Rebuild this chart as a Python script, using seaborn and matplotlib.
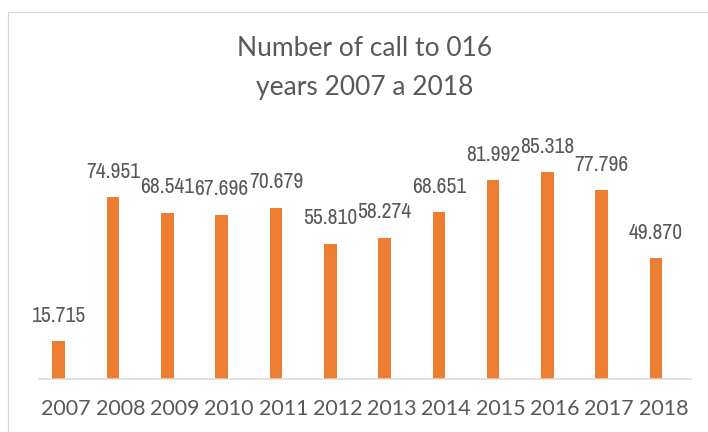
import matplotlib
matplotlib.use("Agg")
import matplotlib.pyplot as plt
import seaborn as sns
import pandas as pd
from matplotlib import font_manager as fm
from matplotlib.textpath import TextPath
from matplotlib.patches import Rectangle

# Calls to the 016 helpline per year
years = ["2007", "2008", "2009", "2010", "2011", "2012",
         "2013", "2014", "2015", "2016", "2017", "2018"]
calls = [15715, 74951, 68541, 67696, 70679, 55810,
         58274, 68651, 81992, 85318, 77796, 49870]
title_lines = ["Number of call to 016", "years 2007 a 2018"]

BAR = "#ED7D31"
TEXT = "#595959"
GRID = "#D9D9D9"

sns.set_theme(style="white")
plt.rcParams["font.family"] = ["Lato", "DejaVu Sans"]

W, H = 708, 432
DPI = 100


def narrow_font():
    """Pick the narrowest upright regular face that is installed."""
    rank = {"ultra-condensed": 0, "extra-condensed": 1, "condensed": 2,
            "semi-condensed": 3}
    best = None
    for f in fm.fontManager.ttflist:
        if f.stretch not in rank or f.style != "normal":
            continue
        w = f.weight if isinstance(f.weight, int) else 400
        if w not in (400, 500) or not f.fname.lower().endswith((".ttf", ".otf")):
            continue
        key = (rank[f.stretch], abs(w - 400), f.name)
        if best is None or key < best[0]:
            best = (key, f.fname)
    if best is None:
        return fm.FontProperties(family="DejaVu Sans")
    return fm.FontProperties(fname=best[1])


label_font = narrow_font()
# size the labels so "74.951" is ~53 px wide and digits ~16.5 px tall
probe = TextPath((0, 0), "74.951", size=10, prop=label_font).get_extents()
digit = TextPath((0, 0), "7", size=10, prop=label_font).get_extents()
px = DPI / 72
size_w = 10 * 53 / (probe.width * px)
size_h = 10 * 16.5 / (digit.height * px)
label_font.set_size(min(size_w, size_h))

fig = plt.figure(figsize=(W / DPI, H / DPI), dpi=DPI)
fig.patch.set_facecolor("white")

# plot area: baseline at y=379 px, 100k calls = 243 px
ax = fig.add_axes([39 / W, (H - 379.3) / H, (690.7 - 39) / W, 243 / H])

df = pd.DataFrame({"year": years, "calls": calls, "series": "calls"})
sns.barplot(data=df, x="year", y="calls", hue="series",
            hue_order=["calls", "spare"],
            palette={"calls": BAR, "spare": BAR},
            width=0.55, gap=0.16, dodge=True, saturation=1,
            errorbar=None, legend=False, linewidth=0, ax=ax)

ax.set_ylim(0, 100000)
ax.set_xlim(-0.5, len(years) - 0.5)
ax.set_yticks([])
ax.set_xlabel("")
ax.set_ylabel("")
for side in ("top", "left", "right"):
    ax.spines[side].set_visible(False)
ax.spines["bottom"].set_color(GRID)
ax.spines["bottom"].set_linewidth(1.1)
ax.tick_params(axis="x", length=0, pad=14.5, labelsize=15.5, labelcolor=TEXT)


def fmt(v):
    # thousands separated with a dot
    return f"{v:,}".replace(",", ".")


for bar, v in zip(ax.containers[0], calls):
    cx = bar.get_x() + bar.get_width() / 2
    ax.annotate(fmt(v), xy=(cx, v), xytext=(0, 14), textcoords="offset points",
                ha="center", va="baseline", color=TEXT,
                fontproperties=label_font, annotation_clip=False)

# title, two centred lines
fig.text(365 / W, 1 - 48 / H, title_lines[0], ha="center", va="center",
         fontsize=19, color=TEXT)
fig.text(365 / W, 1 - 87 / H, title_lines[1], ha="center", va="center",
         fontsize=19, color=TEXT)

# chart frame
fig.patches.append(Rectangle((7.5 / W, -0.2), 1.2, 1.2 - 11.5 / H,
                             transform=fig.transFigure, fill=False,
                             edgecolor=GRID, linewidth=0.9))

fig.savefig("out.png", dpi=DPI, facecolor="white")
